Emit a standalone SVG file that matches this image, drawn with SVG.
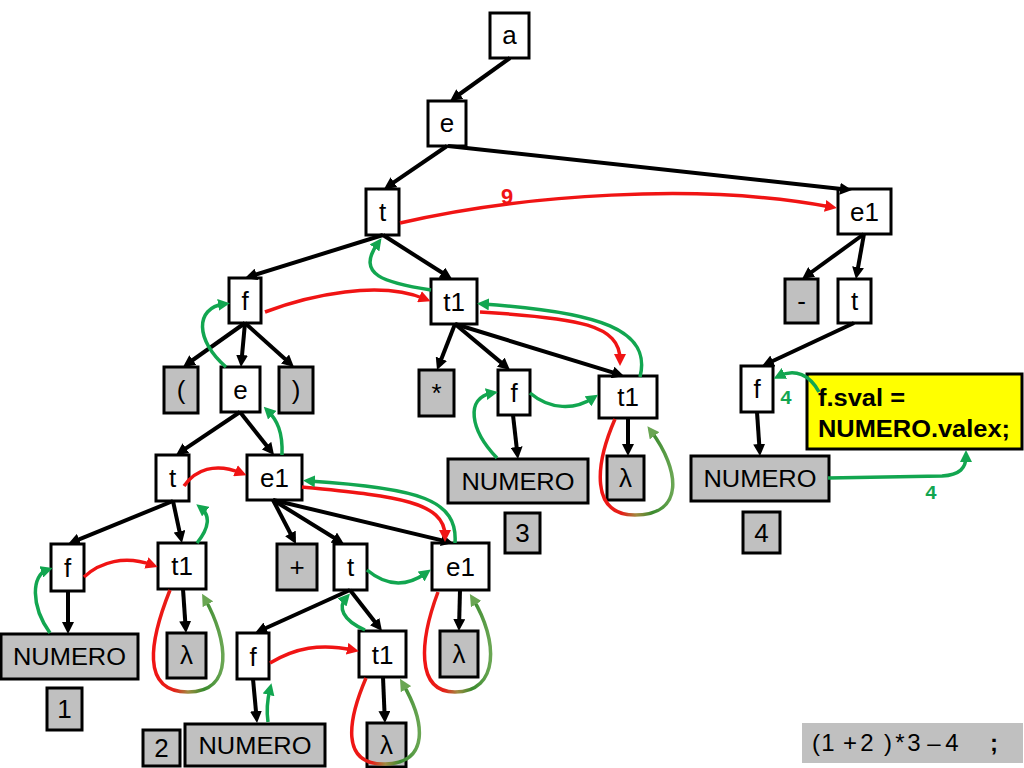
<svg xmlns="http://www.w3.org/2000/svg" width="1024" height="768" viewBox="0 0 1024 768">
<style>
.n rect{fill:#fff;stroke:#000;stroke-width:3}
.n.g rect{fill:#c0c0c0}
.n text{font-family:"Liberation Sans",Arial,sans-serif;font-size:26px;text-anchor:middle;fill:#000}
.n text.w{font-size:24px}
.e path{fill:none;stroke:#000;stroke-width:4}
.r{fill:none;stroke:#f01414;stroke-width:3.5}
.gr{fill:none;stroke:#12a650;stroke-width:3.5}
.lp{fill:none;stroke:url(#rg);stroke-width:3.5}
.lbl{font-family:"Liberation Mono","Courier New",monospace;font-weight:bold;text-anchor:middle}
.x{font-family:"Liberation Sans",Arial,sans-serif;font-size:24px;text-anchor:middle;fill:#000}
</style>
<defs>
<marker id="ab" viewBox="0 0 12 12" markerUnits="userSpaceOnUse" markerWidth="12" markerHeight="12" refX="6" refY="6" orient="auto"><path d="M0,0 L12,6 L0,12 z" fill="#000"/></marker>
<marker id="ar" viewBox="0 0 12 12" markerUnits="userSpaceOnUse" markerWidth="12" markerHeight="12" refX="6" refY="6" orient="auto"><path d="M0,0 L12,6 L0,12 z" fill="#f01414"/></marker>
<marker id="ag" viewBox="0 0 12 12" markerUnits="userSpaceOnUse" markerWidth="12" markerHeight="12" refX="6" refY="6" orient="auto"><path d="M0,0 L12,6 L0,12 z" fill="#12a650"/></marker>
<marker id="al" viewBox="0 0 12 12" markerUnits="userSpaceOnUse" markerWidth="12" markerHeight="12" refX="6" refY="6" orient="auto"><path d="M0,0 L12,6 L0,12 z" fill="#6aa653"/></marker>
<linearGradient id="rg" x1="0" y1="0" x2="1" y2="0">
<stop offset="0" stop-color="#f01414"/>
<stop offset="0.3" stop-color="#e42018"/>
<stop offset="0.5" stop-color="#a08a40"/>
<stop offset="0.72" stop-color="#3a8a2e"/>
<stop offset="1" stop-color="#6aa653"/>
</linearGradient>
</defs>

<g id="nodes">
<g id="n-a" class="n"><rect x="490" y="13" width="39" height="45"/><text x="509.5" y="44">a</text></g>
<g id="n-e" class="n"><rect x="428" y="101" width="38" height="45"/><text x="447" y="132">e</text></g>
<g id="n-t" class="n"><rect x="366" y="189" width="33" height="46"/><text x="382.5" y="221">t</text></g>
<g id="n-e1a" class="n"><rect x="838" y="189" width="53" height="45"/><text x="864.5" y="221">e1</text></g>
<g id="n-minus" class="n g"><rect x="785" y="279" width="33" height="44"/><text x="801.5" y="310">-</text></g>
<g id="n-tr" class="n"><rect x="838" y="279" width="33" height="44"/><text x="854.5" y="310">t</text></g>
<g id="n-fr" class="n"><rect x="741" y="366" width="32" height="46"/><text x="757" y="398">f</text></g>
<g id="n-num4" class="n g"><rect x="691" y="456" width="138" height="45"/><text class="w" x="760" y="487" textLength="113" lengthAdjust="spacingAndGlyphs">NUMERO</text></g>
<g id="n-4" class="n g"><rect x="743" y="512" width="37" height="41"/><text x="761.5" y="542">4</text></g>
<g id="n-action">
<rect x="807" y="374" width="215" height="75" fill="#ffff00" stroke="#000" stroke-width="3"/>
<text x="818" y="406" font-family="Liberation Sans,Arial,sans-serif" font-size="23" font-weight="bold" textLength="87" lengthAdjust="spacingAndGlyphs">f.sval =</text>
<text x="818" y="437" font-family="Liberation Sans,Arial,sans-serif" font-size="23" font-weight="bold" textLength="192" lengthAdjust="spacingAndGlyphs">NUMERO.valex;</text>
</g>
<g id="n-f2" class="n"><rect x="229" y="278" width="32" height="45"/><text x="245" y="310">f</text></g>
<g id="n-t1a" class="n"><rect x="431" y="279" width="46" height="45"/><text x="454" y="311">t1</text></g>
<g id="n-lp" class="n g"><rect x="164" y="367" width="34" height="46"/><text x="181" y="399">(</text></g>
<g id="n-e3" class="n"><rect x="221" y="367" width="39" height="45"/><text x="240.5" y="399">e</text></g>
<g id="n-rp" class="n g"><rect x="279" y="367" width="34" height="46"/><text x="296" y="399">)</text></g>
<g id="n-star" class="n g"><rect x="419" y="370" width="35" height="46"/><text x="436.5" y="402">*</text></g>
<g id="n-f3" class="n"><rect x="498" y="370" width="32" height="45"/><text x="514" y="402">f</text></g>
<g id="n-t1b" class="n"><rect x="599" y="376" width="58" height="42"/><text x="628" y="406">t1</text></g>
<g id="n-num3" class="n g"><rect x="448" y="459" width="140" height="44"/><text class="w" x="518" y="490" textLength="113" lengthAdjust="spacingAndGlyphs">NUMERO</text></g>
<g id="n-lam3" class="n g"><rect x="607" y="456" width="37" height="44"/><text x="625.5" y="487">λ</text></g>
<g id="n-3" class="n g"><rect x="505" y="513" width="35" height="40"/><text x="522.5" y="542">3</text></g>
<g id="n-t4" class="n"><rect x="156" y="455" width="33" height="46"/><text x="172.5" y="487">t</text></g>
<g id="n-e1b" class="n"><rect x="247" y="455" width="55" height="45"/><text x="274.5" y="487">e1</text></g>
<g id="n-f5" class="n"><rect x="51" y="544" width="33" height="47"/><text x="67.5" y="577">f</text></g>
<g id="n-t1c" class="n"><rect x="158" y="543" width="48" height="46"/><text x="182" y="575">t1</text></g>
<g id="n-plus" class="n g"><rect x="277" y="544" width="40" height="46"/><text x="297" y="576">+</text></g>
<g id="n-t5" class="n"><rect x="334" y="544" width="33" height="46"/><text x="350.5" y="576">t</text></g>
<g id="n-e1c" class="n"><rect x="432" y="543" width="57" height="47"/><text x="460.5" y="576">e1</text></g>
<g id="n-num1" class="n g"><rect x="1" y="634" width="137" height="45"/><text class="w" x="69.5" y="665" textLength="113" lengthAdjust="spacingAndGlyphs">NUMERO</text></g>
<g id="n-lam1" class="n g"><rect x="167" y="633" width="39" height="45"/><text x="186.5" y="664">λ</text></g>
<g id="n-1" class="n g"><rect x="47" y="688" width="35" height="42"/><text x="64.5" y="718">1</text></g>
<g id="n-f6" class="n"><rect x="237" y="633" width="32" height="46"/><text x="253" y="666">f</text></g>
<g id="n-t1d" class="n"><rect x="359" y="631" width="47" height="46"/><text x="382.5" y="664">t1</text></g>
<g id="n-lam5" class="n g"><rect x="440" y="631" width="38" height="46"/><text x="459" y="663">λ</text></g>
<g id="n-2" class="n g"><rect x="143" y="730" width="37" height="36"/><text x="161.5" y="757">2</text></g>
<g id="n-num2" class="n g"><rect x="185" y="724" width="140" height="42"/><text class="w" x="255" y="754" textLength="113" lengthAdjust="spacingAndGlyphs">NUMERO</text></g>
<g id="n-lam6" class="n g"><rect x="367" y="723" width="39" height="44"/><text x="386.5" y="754">λ</text></g>
</g>

<g id="connectors">
<g class="e">
<path d="M510,58 L454.9,97.5" marker-end="url(#ab)"/>
<path d="M447,146 L389,185.6" marker-end="url(#ab)"/>
<path d="M448,146 L846,189.4" marker-end="url(#ab)"/>
<path d="M383,235 L250.7,276.2" marker-end="url(#ab)"/>
<path d="M383,235 L447,275.8" marker-end="url(#ab)"/>
<path d="M245,323 L187.9,363.5" marker-end="url(#ab)"/>
<path d="M245,323 L241.5,361" marker-end="url(#ab)"/>
<path d="M245,323 L289.5,363" marker-end="url(#ab)"/>
<path d="M455,324 L439.2,364.4" marker-end="url(#ab)"/>
<path d="M455,324 L505.4,366.1" marker-end="url(#ab)"/>
<path d="M455,324 L618.3,374.2" marker-end="url(#ab)"/>
<path d="M513,415 L517.3,453" marker-end="url(#ab)"/>
<path d="M628,418 L628,450" marker-end="url(#ab)"/>
<path d="M240,412 L181,451.7" marker-end="url(#ab)"/>
<path d="M240,412 L270.3,450.3" marker-end="url(#ab)"/>
<path d="M173,501 L73.6,541.7" marker-end="url(#ab)"/>
<path d="M173,501 L180.7,537.1" marker-end="url(#ab)"/>
<path d="M273,500 L293.2,538.7" marker-end="url(#ab)"/>
<path d="M273,500 L338.9,540.8" marker-end="url(#ab)"/>
<path d="M273,500 L447.2,541.6" marker-end="url(#ab)"/>
<path d="M68,591 L68,628" marker-end="url(#ab)"/>
<path d="M183,589 L185.6,627" marker-end="url(#ab)"/>
<path d="M350,590 L260.5,630.5" marker-end="url(#ab)"/>
<path d="M350,590 L378.3,626.3" marker-end="url(#ab)"/>
<path d="M460,590 L459.1,625" marker-end="url(#ab)"/>
<path d="M253,679 L256.5,717" marker-end="url(#ab)"/>
<path d="M383,677 L384.7,717" marker-end="url(#ab)"/>
<path d="M864,234 L806.9,275.5" marker-end="url(#ab)"/>
<path d="M864,234 L857,273.1" marker-end="url(#ab)"/>
<path d="M854,323 L767.4,363.5" marker-end="url(#ab)"/>
<path d="M757,412 L759.6,450" marker-end="url(#ab)"/>
</g>
<g id="inherited">
<path class="r" d="M400,223 C520,195 700,182 831,207" marker-end="url(#ar)"/>
<path class="r" d="M265,312 C310,295 380,280 425,299" marker-end="url(#ar)"/>
<path class="r" d="M480,312 C580,318 620,325 620,360" marker-end="url(#ar)"/>
<path class="r" d="M184,486 C195,470 215,462 241,473" marker-end="url(#ar)"/>
<path class="r" d="M302,487 C390,496 445,500 445,536" marker-end="url(#ar)"/>
<path class="r" d="M84,577 C100,562 125,555 152,565" marker-end="url(#ar)"/>
<path class="r" d="M270,663 C295,648 320,643 353,650" marker-end="url(#ar)"/>
</g>
<g id="synthesized">
<path class="gr" d="M431,290 C385,283 355,275 378,243" marker-end="url(#ag)"/>
<path class="gr" d="M226,367 C195,340 195,308 224,304" marker-end="url(#ag)"/>
<path class="gr" d="M282,455 C283,432 277,420 268,411" marker-end="url(#ag)"/>
<path class="gr" d="M197,543 C210,527 210,515 201,508" marker-end="url(#ag)"/>
<path class="gr" d="M50,633 C30,605 32,575 47,570" marker-end="url(#ag)"/>
<path class="gr" d="M367,570 C385,585 405,588 426,573" marker-end="url(#ag)"/>
<path class="gr" d="M455,543 C458,500 420,488 309,481" marker-end="url(#ag)"/>
<path class="gr" d="M365,630 C342,620 338,607 346,598" marker-end="url(#ag)"/>
<path class="gr" d="M268,722 C266,708 268,697 270,689" marker-end="url(#ag)"/>
<path class="gr" d="M497,458 C470,430 465,398 492,393" marker-end="url(#ag)"/>
<path class="gr" d="M530,393 C550,410 575,410 593,398" marker-end="url(#ag)"/>
<path class="gr" d="M640,377 C652,330 600,312 483,304" marker-end="url(#ag)"/>
<path class="gr" d="M819,392 C810,375 795,368 779,376" marker-end="url(#ag)"/>
<path class="gr" d="M828,478 L942,476 C960,475 966,468 966,456" marker-end="url(#ag)"/>
</g>
<g id="loops">
<path class="lp" d="M170,590 C150,640 140,692 188,692 C235,692 228,640 205,599" marker-end="url(#al)"/>
<path class="lp" d="M366,678 C348,720 340,765 385,764 C430,763 425,722 403,684" marker-end="url(#al)"/>
<path class="lp" d="M438,592 C420,640 415,692 455,692 C500,692 498,640 473,599" marker-end="url(#al)"/>
<path class="lp" d="M615,419 C595,465 590,515 635,515 C685,515 680,470 651,431" marker-end="url(#al)"/>
</g>
<text class="lbl" x="507" y="204" font-size="22" fill="#f01414">9</text>
<text class="lbl" x="786" y="404" font-size="20" fill="#12a650">4</text>
<text class="lbl" x="931" y="499" font-size="20" fill="#12a650">4</text>
</g>

<g id="expression">
<rect x="802" y="723" width="221" height="40" fill="#c0c0c0"/>
<text class="x" x="816" y="751">(</text>
<text class="x" x="828" y="751">1</text>
<text class="x" x="850" y="751">+</text>
<text class="x" x="867" y="751">2</text>
<text class="x" x="888" y="751">)</text>
<text class="x" x="900" y="751">*</text>
<text class="x" x="914" y="751">3</text>
<text class="x" x="934" y="751">–</text>
<text class="x" x="952" y="751">4</text>
<text class="x" x="994" y="751" font-weight="bold" fill="#1a3ad8">;</text>
</g>
</svg>
